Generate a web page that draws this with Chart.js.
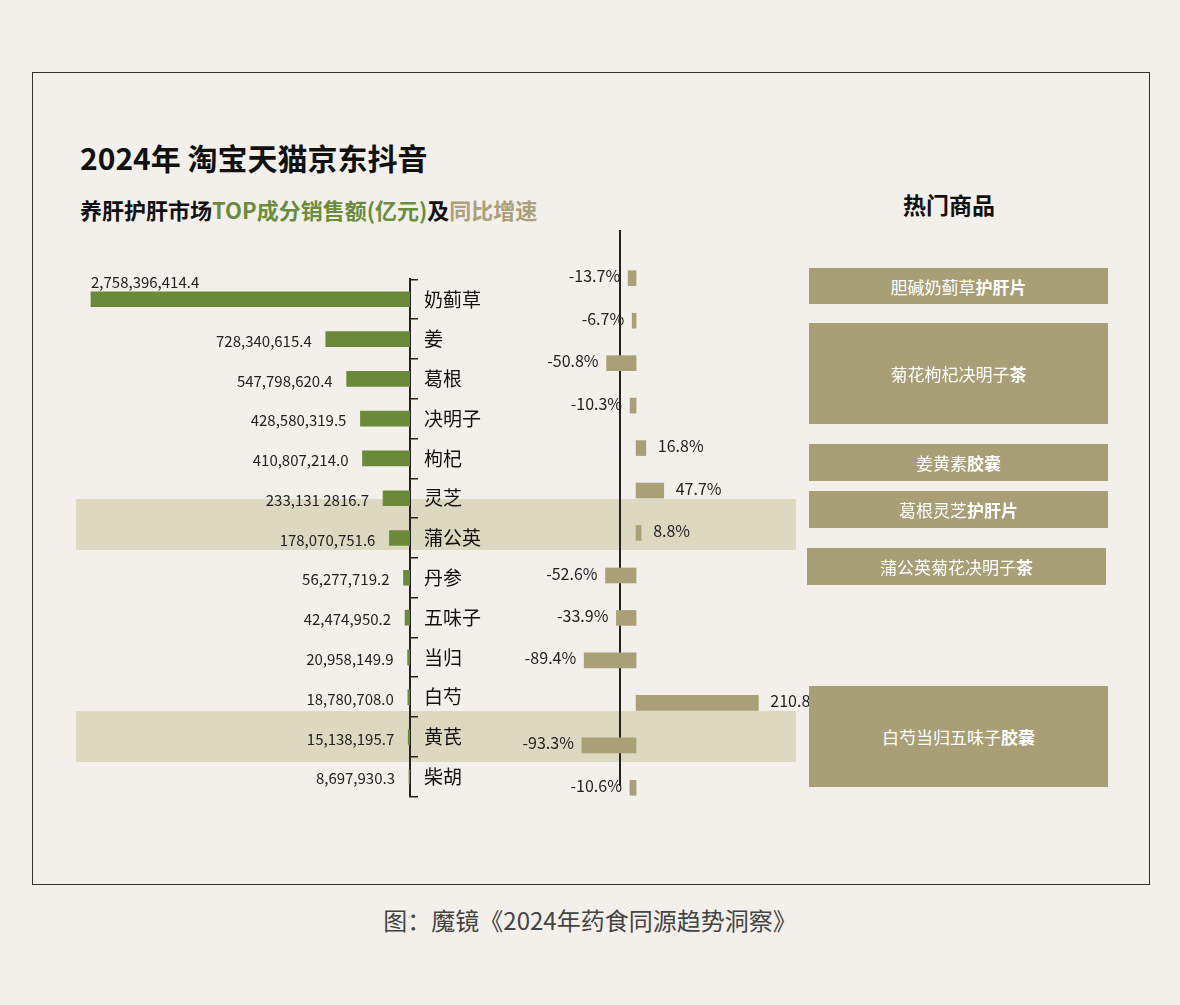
<!DOCTYPE html>
<html><head><meta charset="utf-8">
<script src="https://cdn.jsdelivr.net/npm/chart.js@4"></script>
<style>
body{margin:0;background:#f3f0eb;font-family:"Noto Sans CJK SC","Noto Sans",sans-serif;}
#page{position:relative;width:1180px;height:1005px;}
.abs{position:absolute;}
#frame{left:32px;top:72px;width:1116px;height:811px;border:1px solid #333;}
.band{background:#ddd8c0;left:76px;width:720px;height:51px;}
.box{background:#a89f76;color:#fff;font-size:17px;display:flex;align-items:center;justify-content:center;}
.box b{font-weight:700;}
</style></head>
<body><div id="page">
<div id="frame" class="abs"></div>
<div class="abs band" style="top:499px"></div>
<div class="abs band" style="top:711px"></div>
<div class="abs" style="left:80px;top:135px;font-size:30px;font-weight:700;color:#111">2024年 淘宝天猫京东抖音</div>
<div class="abs" style="left:80px;top:193px;font-size:22px;font-weight:700;color:#111">养肝护肝市场<span style="color:#6b8c3e">TOP成分销售额(亿元)</span>及<span style="color:#aaa07a">同比增速</span></div>
<div class="abs" style="left:903px;top:187px;font-size:23px;font-weight:700;color:#111">热门商品</div>
<div class="abs" style="left:619px;top:230px;width:2px;height:556px;background:#222"></div>
<div class="abs" style="left:76px;top:262px;width:440px;height:552px"><canvas id="sales"></canvas></div>
<div class="abs" style="left:480px;top:257px;width:380px;height:552px"><canvas id="growth"></canvas></div>
<div id="boxes"></div>
<div class="abs" style="left:0;width:1180px;top:902px;text-align:center;font-size:24px;color:#444">图：魔镜《2024年药食同源趋势洞察》</div>
</div>
<script>
var categories = ['奶蓟草','姜','葛根','决明子','枸杞','灵芝','蒲公英','丹参','五味子','当归','白芍','黄芪','柴胡'];
var salesValues = [2758396414.4,728340615.4,547798620.4,428580319.5,410807214.0,233131281.67,178070751.6,56277719.2,42474950.2,20958149.9,18780708.0,15138195.7,8697930.3];
var salesLabels = ['2,758,396,414.4','728,340,615.4','547,798,620.4','428,580,319.5','410,807,214.0','233,131 2816.7','178,070,751.6','56,277,719.2','42,474,950.2','20,958,149.9','18,780,708.0','15,138,195.7','8,697,930.3'];
var growthValues = [-13.7,-6.7,-50.8,-10.3,16.8,47.7,8.8,-52.6,-33.9,-89.4,210.8,-93.3,-10.6];
var products = [['胆碱奶蓟草','护肝片'],['菊花枸杞决明子','茶'],['姜黄素','胶囊'],['葛根灵芝','护肝片'],['蒲公英菊花决明子','茶'],['白芍当归五味子','胶囊']];
var productBoxes = [[809,268,299,36],[809,323,299,101],[809,444,299,37],[809,491,299,37],[807,548,299,37],[809,686,299,101]];

var GREEN = '#6a8a3a', TAN = '#aaa077';
var FONT = '"Noto Sans CJK SC","Noto Sans",sans-serif';

productBoxes.forEach(function(b,i){
    var d = document.createElement('div');
    d.className = 'abs box';
    d.style.cssText = 'left:'+b[0]+'px;top:'+b[1]+'px;width:'+b[2]+'px;height:'+b[3]+'px';
    d.innerHTML = products[i][0]+'<b>'+products[i][1]+'</b>';
    document.getElementById('boxes').appendChild(d);
});

var salesLabelPlugin = {
    id:'salesLabels',
    afterDatasetsDraw:function(chart){
        var ctx = chart.ctx;
        ctx.save();
        ctx.font = '15px '+FONT;
        ctx.fillStyle = '#222';
        chart.getDatasetMeta(0).data.forEach(function(bar,i){
            if(i===0){
                ctx.textAlign='left'; ctx.textBaseline='bottom';
                ctx.fillText(salesLabels[i], bar.x, bar.y-9);
            }else{
                ctx.textAlign='right'; ctx.textBaseline='middle';
                ctx.fillText(salesLabels[i], bar.x-14, bar.y+2);
            }
        });
        ctx.restore();
    }
};

new Chart(document.getElementById('sales'),{
    type:'bar',
    data:{labels:categories,datasets:[{data:salesValues,backgroundColor:GREEN,barThickness:15}]},
    options:{
        indexAxis:'y',responsive:true,maintainAspectRatio:false,animation:false,
        layout:{padding:0},
        plugins:{legend:{display:false},tooltip:{enabled:false}},
        scales:{
            x:{reverse:true,min:0,max:2888000000,display:false},
            y:{position:'right',
               afterFit:function(s){s.width=106;},
               grid:{offset:true,drawOnChartArea:false,tickLength:8,color:'#222',lineWidth:1.5},
               border:{color:'#222',width:2},
               ticks:{color:'#111',padding:6,font:{size:19,family:FONT}}}
        }
    },
    plugins:[salesLabelPlugin]
});

var growthLabelPlugin = {
    id:'growthLabels',
    afterDatasetsDraw:function(chart){
        var ctx = chart.ctx;
        ctx.save();
        ctx.font = '16px '+FONT;
        ctx.fillStyle = '#222';
        ctx.textBaseline='middle';
        chart.getDatasetMeta(0).data.forEach(function(bar,i){
            var v = growthValues[i];
            var t = v.toFixed(1)+'%';
            if(v<0){
                ctx.textAlign='right';
                ctx.fillText(t, bar.x-8, bar.y-16 < 0 ? bar.y : bar.y-2);
            }else{
                ctx.textAlign='left';
                ctx.fillText(t, bar.x+12, bar.y-2);
            }
        });
        ctx.restore();
    }
};

new Chart(document.getElementById('growth'),{
    type:'bar',
    data:{labels:categories,datasets:[{data:growthValues,backgroundColor:TAN,barThickness:15}]},
    options:{
        indexAxis:'y',responsive:true,maintainAspectRatio:false,animation:false,
        layout:{padding:0},
        plugins:{legend:{display:false},tooltip:{enabled:false}},
        scales:{
            x:{min:-269,max:386,display:false},
            y:{display:false}
        }
    },
    plugins:[growthLabelPlugin]
});
</script>
</body></html>
